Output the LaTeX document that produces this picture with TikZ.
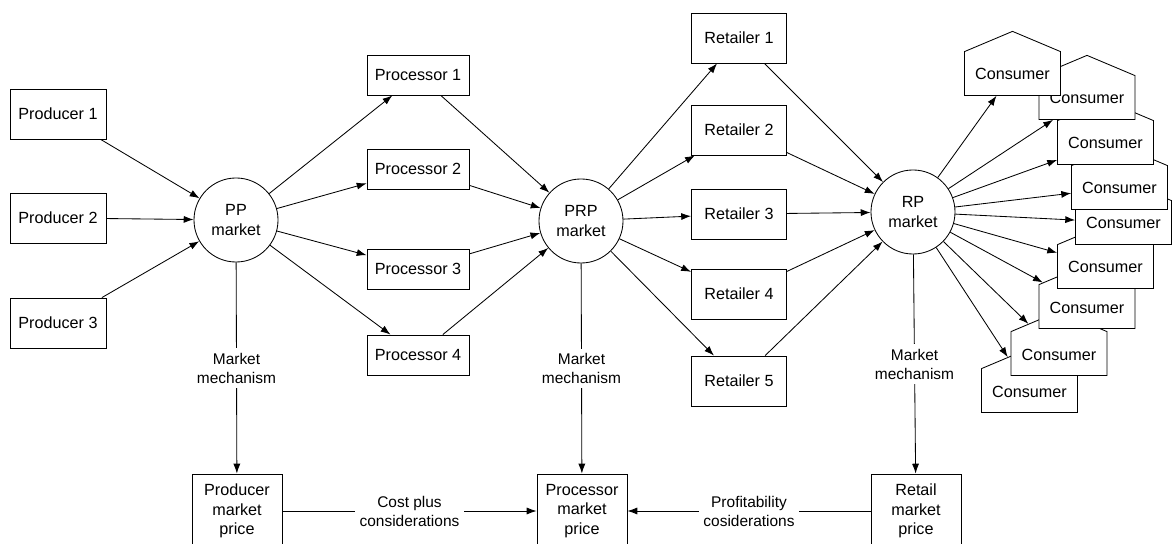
\documentclass[tikz,border=0pt]{standalone}
\usepackage{fontspec}
\setmainfont{Liberation Sans}
\usetikzlibrary{arrows.meta,shapes.arrows}

\begin{document}
\begin{tikzpicture}[x=0.025cm,y=-0.025cm,>={Latex[length=7pt,width=5pt]},line width=0.6pt,
  every node/.append style={align=center,font=\fontsize{11.5}{14}\selectfont},
  int/.style={draw,fill=white,inner sep=0pt},
  prod/.style={int,minimum width=2.4cm,minimum height=1.25cm},
  proc/.style={int,minimum width=2.55cm,minimum height=1cm},
  ret/.style={int,minimum width=2.375cm,minimum height=1.25cm},
  mkt/.style={draw,circle,minimum size=2.1cm,inner sep=0pt},
  price/.style={int,minimum width=2.25cm,minimum height=1.85cm},
  house/.style={single arrow,draw,fill=white,shape border rotate=90,single arrow head extend=0pt,
    single arrow tip angle=134.3,inner sep=0pt,text width=2.375cm,text height=0.7cm,text depth=0.375cm},
  lbl/.style={fill=white,font=\fontsize{11}{13.5}\selectfont}]
  \useasboundingbox (0,0) rectangle (1172,544);

  \node [prod] (Prod1) at (58,114) {Producer 1};
  \node [prod] (Prod2) at (58,218) {Producer 2};
  \node [prod] (Prod3) at (58,323) {Producer 3};

  \node [mkt] (PP)  at (236,220) {PP\\market};
  \node [mkt] (PRP) at (581,221) {PRP\\market};
  \node [mkt] (RP)  at (913,212) {RP\\market};

  \node [proc] (Proc1) at (418,75)  {Processor 1};
  \node [proc] (Proc2) at (418,169) {Processor 2};
  \node [proc] (Proc3) at (418,269) {Processor 3};
  \node [proc] (Proc4) at (418,355) {Processor 4};

  \node [ret] (Ret1) at (739,38)  {Retailer 1};
  \node [ret] (Ret2) at (739,130) {Retailer 2};
  \node [ret] (Ret3) at (739,214) {Retailer 3};
  \node [ret] (Ret4) at (739,294) {Retailer 4};
  \node [ret] (Ret5) at (739,381) {Retailer 5};

  % consumers, back to front
  \foreach \i/\x/\y in {9/1029.5/390.5,8/1059/353.5,7/1087/306.5,6/1105.5/266.5,5/1123.5/222.5,
                        4/1119.5/187.5,3/1105.5/142.5,2/1087/97.5,1/1012.5/73.5}
    \node [house] (Con\i) at (\x,\y) {Consumer};

  \node [price] (PPprice)  at (237,511) {Producer\\market\\price};
  \node [price] (PRPprice) at (582,511) {Processor\\market\\price};
  \node [price] (RPprice)  at (916,511) {Retail\\market\\price};

  \path[->] (Prod1) edge (PP)
            (Prod2) edge (PP)
            (Prod3) edge (PP);
  \foreach \i in {1,...,4}
    \path[->] (PP) edge (Proc\i)
              (Proc\i) edge (PRP);
  \foreach \i in {1,...,5}
    \path[->] (PRP) edge (Ret\i)
              (Ret\i) edge (RP);
  \foreach \i in {1,...,9}
    \path[->] (RP) edge (Con\i);

  \path[->] (PP) edge node[lbl] {Market\\mechanism} (PPprice)
            (PRP) edge node[lbl] {Market\\mechanism} (PRPprice)
            (RP) edge node[lbl] {Market\\mechanism} (RPprice)
            (PPprice) edge node[lbl] {Cost plus\\considerations} (PRPprice)
            (RPprice) edge node[lbl] {Profitability\\cosiderations} (PRPprice);
\end{tikzpicture}
\end{document}
